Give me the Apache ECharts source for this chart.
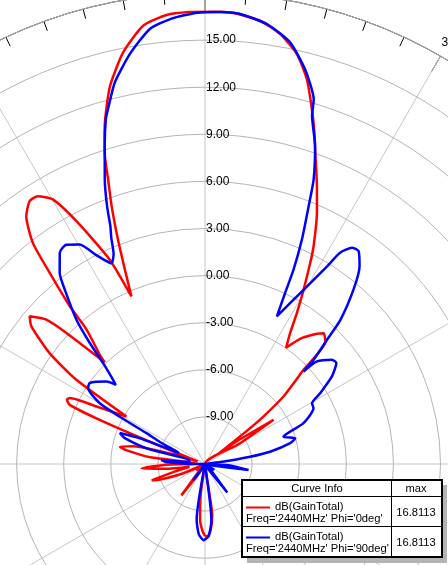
<!DOCTYPE html>
<html><head><meta charset="utf-8">
<script src="https://cdn.jsdelivr.net/npm/echarts@6/dist/echarts.min.js"></script>
<style>html,body{margin:0;padding:0;background:#fff;overflow:hidden}#c{width:448px;height:565px}</style>
</head><body><div id="c"></div>
<script>
// Radius scale (dB) and angle scale (deg)
const radiusMin = -12, radiusMax = 18, radiusStep = 3;
const angleStep = 30;

// Curve 1: dB(GainTotal) Phi='0deg' (theta in deg, gain in dB)
const redTheta = [-180,-178,-175,-172,-169,-165,-150,-147,-143,-139,-130,-125,-121,-113,-109,-107,-104,-100,-97,-94,-91,-87,-83,-80,-78.5,-76,-73,-70,-68,-67.3,-66.4,-65,-64,-62.1,-60.5,-58.9,-56.8,-54.5,-51.6,-49.9,-47.7,-46.6,-44.6,-44.0,-41.4,-40.6,-39.1,-37.9,-35.8,-33.7,-32,-29.9,-27.9,-25,-23.7,-22.4,-21.2,-19.9,-18.8,-18.0,-16.7,-15.4,-14.0,-11.25,-8.03,-4.88,-2,1,3.59,7.09,9.92,12.64,14.83,16.77,18.2,19.5,21.94,24.0,26.5,27.6,29.5,31.3,33.0,34.9,37.5,40.7,42.2,44.5,46.3,49.3,50.9,51.6,52.5,54.5,57.2,59.5,62,90,120,150,168,172,175,178,180];
const redGain  = [-7.4,-7.7,-8.4,-10,-12,-12,-12,-11.2,-9.5,-11.5,-12,-11.3,-12,-10.5,-8.9,-8.45,-10,-11,-9.5,-7.95,-9.5,-11.5,-8.5,-6.9,-6.47,-7.3,-10,-11.5,-8,-4.73,-2.6,-2.3,-2.42,-4.18,-5.3,-6.16,-2.21,0.16,2.11,2.6,1.66,0.15,-2.9,-2.4,-0.59,1.23,3.68,5.85,7.46,8.13,8.11,7.44,5.5,2.36,-0.34,1.39,3.33,5.47,7.15,8.63,10.25,11.6,12.9,14.73,16.19,16.7,16.8,16.81,16.78,16.45,15.8,14.76,13.35,11.6,10.3,9.04,7.08,5.53,3.5,2.48,0.75,-0.72,-2.03,-2.97,-1.9,-1.06,-0.75,-1.06,-3.32,-5.41,-7.21,-8.6,-11,-9.5,-6.8,-9.5,-12,-12,-12,-12,-12,-8.7,-7.8,-7.4,-7.4];

// Curve 2: dB(GainTotal) Phi='90deg'
const blueTheta = [-180,-179,-175,-171.5,-168,-150,-146.5,-144,-141,-120,-100,-90,-87,-85,-82,-78,-75,-72,-70,-68.5,-67,-66,-64,-62.2,-61,-60,-57,-54.9,-50.1,-48.4,-47.5,-45.3,-43.6,-41.7,-38.8,-37.25,-34.5,-32.3,-29.7,-27.5,-25,-23.5,-22.5,-21.7,-20.8,-19.4,-17.5,-16.05,-15.3,-13.3,-10.4,-7.22,-4.3,-1,2,4.46,8.0,11.4,14.2,16.6,17.1,19.1,20.9,21.9,23.35,24.5,25.1,25.95,29.5,31.7,32.6,34.2,35.8,38,40.4,43.2,44.5,46.2,46.8,47.5,50.6,52.45,55.4,58.4,60.4,62.8,67.5,70.8,74.1,76.3,79.3,80.8,83,87,93,97.9,101,110,122,126,136,141.9,146,152,170,173.5,177,180];
const blueGain  = [-7.2,-7.15,-7.5,-8.4,-12,-12,-11.5,-10.7,-12,-12,-12,-11.5,-9.5,-9.2,-11,-11,-8.2,-6.6,-6.23,-7.5,-10.2,-10,-8.8,-7.79,-5.79,-4.26,-3.12,-3.03,-3.82,-4.4,-4.06,-2.87,-1.36,0.31,2.25,3.29,4.33,4.53,4.1,3.0,2.1,2.6,3.6,4.3,5.57,7.22,9.24,10.85,11.43,12.97,14.54,15.93,16.45,16.75,16.81,16.75,16.3,15.4,13.95,12.24,11.19,9.43,7.4,5.7,3.57,1.6,0.03,-1.54,0.75,2.8,3.97,4.65,4.72,3.99,2.59,0.6,-0.91,-2.42,-3.39,-2.33,-1.54,-1.45,-2.18,-3.38,-4.16,-4.23,-5.21,-6.71,-6.02,-6.41,-7.78,-9.09,-11,-12,-10.5,-9.2,-11.5,-12,-11.3,-12,-11.5,-9.7,-11.5,-12,-12,-8.4,-7.4,-7.2];

// Legend table texts
const legendHeader = ['Curve Info', 'max'];
const legendNames = ['dB(GainTotal)', 'dB(GainTotal)'];
const legendFreq = ["Freq='2440MHz' Phi='0deg'", "Freq='2440MHz' Phi='90deg'"];
const legendMax = ['16.8113', '16.8113'];
const curveColors = ['#ff0000', '#0000ff'];

function toPolar(theta, gain) {
  return theta.map((t, i) => [Math.max(gain[i], radiusMin), t < 0 ? t + 360 : t]);
}

const FONT = "'Liberation Sans', Arial, sans-serif";
const LF = '11.2px ' + FONT;
const chart = echarts.init(document.getElementById('c'), null, {renderer: 'canvas'});

const graphics = [
  {type:'rect', shape:{x:247,y:485,width:200,height:78}, style:{fill:'#b4b4b4'}, z:100},
  {type:'rect', shape:{x:242,y:480,width:200,height:77}, style:{fill:'#fff', stroke:'#000', lineWidth:2}, z:101},
  {type:'line', shape:{x1:391.5,y1:480,x2:391.5,y2:557}, style:{stroke:'#000', lineWidth:1}, z:102},
  {type:'line', shape:{x1:242,y1:496.5,x2:442,y2:496.5}, style:{stroke:'#000', lineWidth:1}, z:102},
  {type:'line', shape:{x1:242,y1:526.5,x2:442,y2:526.5}, style:{stroke:'#000', lineWidth:1}, z:102},
  {type:'text', x:317, y:489, style:{text:legendHeader[0], font:LF, fill:'#000', align:'center', verticalAlign:'middle'}, z:103},
  {type:'text', x:416, y:489, style:{text:legendHeader[1], font:LF, fill:'#000', align:'center', verticalAlign:'middle'}, z:103}
];
for (let i = 0; i < 2; i++) {
  const y0 = 496.5 + i * 30;
  graphics.push(
    {type:'line', shape:{x1:246,y1:y0+11,x2:270,y2:y0+11}, style:{stroke:curveColors[i], lineWidth:2}, z:103},
    {type:'text', x:275, y:y0+10.5, style:{text:legendNames[i], font:LF, fill:'#000', align:'left', verticalAlign:'middle'}, z:103},
    {type:'text', x:246, y:y0+22, style:{text:legendFreq[i], font:LF, fill:'#000', align:'left', verticalAlign:'middle'}, z:103},
    {type:'text', x:416, y:y0+16.5, style:{text:legendMax[i], font:LF, fill:'#000', align:'center', verticalAlign:'middle'}, z:103}
  );
}

chart.setOption({
  animation: false,
  backgroundColor: '#fff',
  textStyle: {fontFamily: FONT},
  polar: {center: [205, 464], radius: 471},
  angleAxis: {
    type: 'value', min: 0, max: 360, interval: angleStep, startAngle: 90, clockwise: true,
    axisLine: {show: true, lineStyle: {color: '#000', width: 1}},
    axisTick: {show: true, inside: true, length: 18, lineStyle: {color: '#000'}},
    minorTick: {show: true, splitNumber: 6, length: 10, lineStyle: {color: '#000'}},
    axisLabel: {show: true, margin: 2, align: 'left', verticalAlign: 'middle', padding: [0, 0, 6, 0],
      fontSize: 12, color: '#000', fontFamily: FONT,
      formatter: v => String(v > 180 ? v - 360 : v)},
    splitLine: {show: true, lineStyle: {color: '#c4c8c4', width: 1}}
  },
  radiusAxis: {
    type: 'value', min: radiusMin, max: radiusMax, interval: radiusStep,
    axisLine: {show: false}, axisTick: {show: false},
    axisLabel: {show: true, margin: -1, align: 'left', verticalAlign: 'middle', padding: [0, 0, 9, 0],
      fontSize: 12, color: '#000', fontFamily: FONT,
      showMinLabel: false, showMaxLabel: false,
      formatter: v => (v === radiusMin || v === radiusMax) ? '' : v.toFixed(2)},
    splitLine: {show: true, lineStyle: {color: '#bcb0bc', width: 1}},
    z: 5
  },
  series: [
    {type: 'line', coordinateSystem: 'polar', data: toPolar(redTheta, redGain), showSymbol: false, symbol: 'none',
     smooth: 0.2, lineStyle: {color: curveColors[0], width: 2.5}, z: 10},
    {type: 'line', coordinateSystem: 'polar', data: toPolar(blueTheta, blueGain), showSymbol: false, symbol: 'none',
     smooth: 0.2, lineStyle: {color: curveColors[1], width: 2.5}, z: 11}
  ],
  graphic: graphics
});
</script>
</body></html>
